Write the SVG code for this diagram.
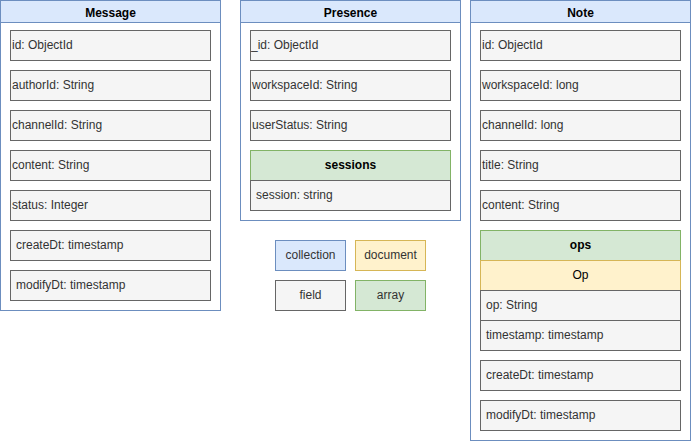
<svg xmlns="http://www.w3.org/2000/svg" width="691" height="442" viewBox="0 0 691 442">
<style>
.cont{fill:#ffffff;stroke:#6c8ebf;stroke-width:1}
.hdr{fill:#dae8fc;stroke:#6c8ebf;stroke-width:1}
.fld{fill:#f5f5f5;stroke:#666666;stroke-width:1}
.arr{fill:#d5e8d4;stroke:#82b366;stroke-width:1}
.doc{fill:#fff2cc;stroke:#d6b656;stroke-width:1}
text{font-family:"Liberation Sans",Arial,sans-serif;font-size:12px}
.t{fill:#333333}
.h{fill:#000000;font-weight:bold;text-anchor:middle}
.c{text-anchor:middle}
</style>
<rect width="691" height="442" fill="#ffffff"/>
<g id="message">
<rect class="cont" x="0.5" y="0.5" width="220" height="310"/>
<rect class="hdr" x="0.5" y="0.5" width="220" height="22"/>
<text class="h" x="110.5" y="16.5">Message</text>
<rect class="fld" x="10.5" y="30.5" width="200" height="30"/><text class="t" x="12" y="49">id: ObjectId</text>
<rect class="fld" x="10.5" y="70.5" width="200" height="30"/><text class="t" x="12" y="89">authorId: String</text>
<rect class="fld" x="10.5" y="110.5" width="200" height="30"/><text class="t" x="12" y="129">channelId: String</text>
<rect class="fld" x="10.5" y="150.5" width="200" height="30"/><text class="t" x="12" y="169">content: String</text>
<rect class="fld" x="10.5" y="190.5" width="200" height="30"/><text class="t" x="12" y="209">status: Integer</text>
<rect class="fld" x="10.5" y="230.5" width="200" height="30"/><text class="t" x="16" y="249">createDt: timestamp</text>
<rect class="fld" x="10.5" y="270.5" width="200" height="30"/><text class="t" x="16" y="289">modifyDt: timestamp</text>
</g>
<g id="presence">
<rect class="cont" x="240.5" y="0.5" width="220" height="220"/>
<rect class="hdr" x="240.5" y="0.5" width="220" height="22"/>
<text class="h" x="350.5" y="16.5">Presence</text>
<rect class="fld" x="250.5" y="30.5" width="200" height="30"/><text class="t" x="251" y="49">_id: ObjectId</text>
<rect class="fld" x="250.5" y="70.5" width="200" height="30"/><text class="t" x="252" y="89">workspaceId: String</text>
<rect class="fld" x="250.5" y="110.5" width="200" height="30"/><text class="t" x="252" y="129">userStatus: String</text>
<rect class="arr" x="250.5" y="150.5" width="200" height="30"/><text class="h" x="350.5" y="169">sessions</text>
<rect class="fld" x="250.5" y="180.5" width="200" height="30"/><text class="t" x="256" y="199">session: string</text>
</g>
<g id="note">
<rect class="cont" x="470.5" y="0.5" width="220" height="440"/>
<rect class="hdr" x="470.5" y="0.5" width="220" height="22"/>
<text class="h" x="580.5" y="16.5">Note</text>
<rect class="fld" x="480.5" y="30.5" width="200" height="30"/><text class="t" x="482" y="49">id: ObjectId</text>
<rect class="fld" x="480.5" y="70.5" width="200" height="30"/><text class="t" x="482" y="89">workspaceId: long</text>
<rect class="fld" x="480.5" y="110.5" width="200" height="30"/><text class="t" x="482" y="129">channelId: long</text>
<rect class="fld" x="480.5" y="150.5" width="200" height="30"/><text class="t" x="482" y="169">title: String</text>
<rect class="fld" x="480.5" y="190.5" width="200" height="30"/><text class="t" x="482" y="209">content: String</text>
<rect class="arr" x="480.5" y="230.5" width="200" height="30"/><text class="h" x="580.5" y="249">ops</text>
<rect class="doc" x="480.5" y="260.5" width="200" height="30"/><text class="c" x="580.5" y="279" fill="#000000">Op</text>
<rect class="fld" x="480.5" y="290.5" width="200" height="30"/><text class="t" x="486" y="309">op: String</text>
<rect class="fld" x="480.5" y="320.5" width="200" height="30"/><text class="t" x="486" y="339">timestamp: timestamp</text>
<rect class="fld" x="480.5" y="360.5" width="200" height="30"/><text class="t" x="486" y="379">createDt: timestamp</text>
<rect class="fld" x="480.5" y="400.5" width="200" height="30"/><text class="t" x="486" y="419">modifyDt: timestamp</text>
</g>
<g id="legend">
<g id="legend-collection"><rect class="hdr" x="275.5" y="240.5" width="70" height="30"/><text class="c t" x="310.5" y="259">collection</text></g>
<g id="legend-document"><rect class="doc" x="355.5" y="240.5" width="70" height="30"/><text class="c t" x="390.5" y="259">document</text></g>
<g id="legend-field"><rect class="fld" x="275.5" y="280.5" width="70" height="30"/><text class="c t" x="310.5" y="299">field</text></g>
<g id="legend-array"><rect class="arr" x="355.5" y="280.5" width="70" height="30"/><text class="c t" x="390.5" y="299">array</text></g>
</g>
<g id="connectors"></g>
</svg>
